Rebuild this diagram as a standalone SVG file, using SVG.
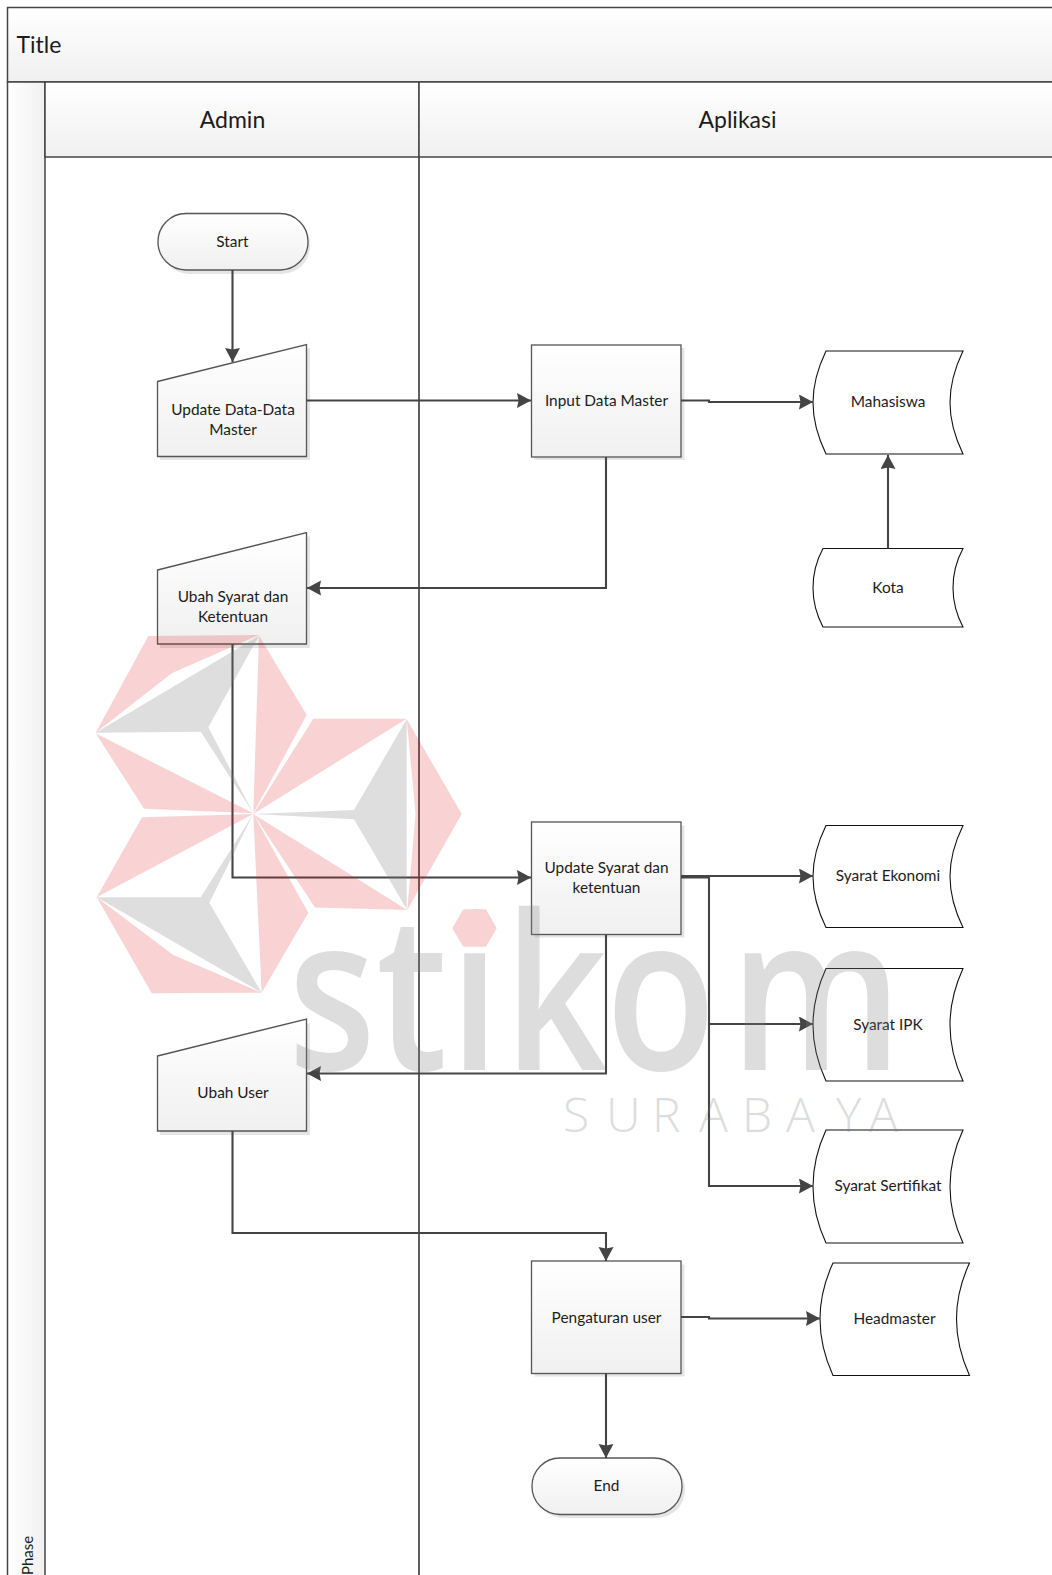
<svg xmlns="http://www.w3.org/2000/svg" width="1052" height="1575" viewBox="0 0 1052 1575">
<style>
text{font-family:"Lato","Open Sans","Liberation Sans",sans-serif;fill:#1c1c1c;text-anchor:middle}
.n{font-size:15.4px}
.h{font-size:23px}
.fr{fill:url(#v);stroke:#555;stroke-width:1.3}
.sh{fill:#dcdcdc;opacity:.75}
.ds{fill:#fff;stroke:#111;stroke-width:1.1}
.c{fill:none;stroke:#444;stroke-width:2.1;marker-end:url(#a)}
.p{fill:#e2222a;opacity:.2}
.g{fill:#808080;opacity:.26}
.wm{font-family:"Open Sans",sans-serif;fill:#808080;opacity:.26;text-anchor:start}
</style>
<defs>
<linearGradient id="v" x1="0" y1="0" x2="0" y2="1"><stop offset="0" stop-color="#fff"/><stop offset="1" stop-color="#f0f0f0"/></linearGradient>
<linearGradient id="hz" x1="0" y1="0" x2="1" y2="0"><stop offset="0" stop-color="#fff"/><stop offset="1" stop-color="#f0f0f0"/></linearGradient>
<marker id="a" markerUnits="userSpaceOnUse" markerWidth="16" markerHeight="16" refX="14" refY="7.500" orient="auto"><path d="M0 0L14 7.500L0 15L1.500 7.500Z" fill="#444"/></marker>
</defs>
<rect width="1052" height="1575" fill="#fff"/>
<g id="swimlane">
<rect x="7.500" y="7.500" width="1050" height="74.500" fill="url(#v)" stroke="#444" stroke-width="1.500"/>
<text x="16.500" y="53" class="h" style="text-anchor:start">Title</text>
<rect x="7.500" y="82" width="37.500" height="1500" fill="url(#hz)" stroke="#444" stroke-width="1.500"/>
<rect x="45" y="82" width="374" height="75" fill="url(#v)" stroke="#444" stroke-width="1.500"/>
<rect x="419" y="82" width="640" height="75" fill="url(#v)" stroke="#444" stroke-width="1.500"/>
<path d="M419 157V1575" stroke="#444" stroke-width="1.700" fill="none"/>
<text x="232.500" y="128" class="h">Admin</text>
<text x="737.500" y="128" class="h">Aplikasi</text>
<text transform="translate(33 1575) rotate(-90)" x="0" y="0" style="text-anchor:start;font-size:15px">Phase</text>
</g>
<g id="start"><rect class="sh" x="161" y="217" width="149" height="57" rx="28"/><rect class="fr" x="158" y="213.500" width="150" height="56.500" rx="28"/><text class="n" x="232.500" y="247">Start</text></g>
<g id="update-data"><path class="sh" d="M160 385L310 348V460H160Z"/><path class="fr" d="M157.500 381.500L306.500 344.500V456.500H157.500Z"/><text class="n" x="233" y="415">Update Data-Data</text><text class="n" x="233" y="435">Master</text></g>
<g id="input-data"><rect class="sh" x="534.500" y="348" width="150" height="112"/><rect class="fr" x="531.500" y="345" width="149.500" height="112"/><text class="n" x="606.500" y="406">Input Data Master</text></g>
<g id="mahasiswa"><path class="ds" d="M826 351H963Q950 378 950 402.500Q950 427 963 454H826Q813 427 813 402.500Q813 378 826 351Z"/><text class="n" x="888" y="407">Mahasiswa</text></g>
<g id="kota"><path class="ds" d="M823 548.500H963Q953 567 953 588Q953 608 963 627H823Q813 608 813 588Q813 567 823 548.500Z"/><text class="n" x="888" y="593">Kota</text></g>
<g id="ubah-syarat"><path class="sh" d="M160 573L310 536V648H160Z"/><path class="fr" d="M157.500 570L306.500 532.500V644H157.500Z"/><text class="n" x="233" y="602">Ubah Syarat dan</text><text class="n" x="233" y="622">Ketentuan</text></g>
<g id="update-syarat"><rect class="sh" x="534.500" y="825.500" width="150" height="112"/><rect class="fr" x="531.500" y="822" width="149.500" height="112.500"/><text class="n" x="606.500" y="873">Update Syarat dan</text><text class="n" x="606.500" y="893">ketentuan</text></g>
<g id="syarat-ekonomi"><path class="ds" d="M826 825.500H963Q950 852 950 876.500Q950 901 963 927.500H826Q813 901 813 876.500Q813 852 826 825.500Z"/><text class="n" x="888" y="881">Syarat Ekonomi</text></g>
<g id="syarat-ipk"><path class="ds" d="M826 968.500H963Q950 997 950 1025Q950 1053 963 1081H826Q813 1053 813 1025Q813 997 826 968.500Z"/><text class="n" x="888" y="1030">Syarat IPK</text></g>
<g id="syarat-sertifikat"><path class="ds" d="M826 1130H963Q950 1158 950 1186.500Q950 1215 963 1243H826Q813 1215 813 1186.500Q813 1158 826 1130Z"/><text class="n" x="888" y="1191">Syarat Sertifikat</text></g>
<g id="ubah-user"><path class="sh" d="M160 1060L310 1023V1135H160Z"/><path class="fr" d="M157.500 1056L306.500 1019V1131H157.500Z"/><text class="n" x="233" y="1098">Ubah User</text></g>
<g id="pengaturan"><rect class="sh" x="534.500" y="1264.500" width="150" height="112"/><rect class="fr" x="531.500" y="1261" width="149.500" height="112.500"/><text class="n" x="606.500" y="1323">Pengaturan user</text></g>
<g id="headmaster"><path class="ds" d="M833 1263H969.500Q956.500 1291 956.500 1319Q956.500 1347 969.500 1375.500H833Q820 1347 820 1319Q820 1291 833 1263Z"/><text class="n" x="894.500" y="1324">Headmaster</text></g>
<g id="end"><rect class="sh" x="535" y="1461" width="150" height="57" rx="28"/><rect class="fr" x="532" y="1458" width="150" height="56.500" rx="28"/><text class="n" x="606.500" y="1491">End</text></g>
<g id="connectors">
<path class="c" d="M232.500 270V362"/>
<path class="c" d="M306.500 400.500H531"/>
<path class="c" d="M681 400.500H709V402H813"/>
<path class="c" d="M606 457V588H307"/>
<path class="c" d="M888 548.500V455"/>
<path class="c" d="M232.500 644V877.500H531"/>
<path class="c" d="M681 876H813"/>
<path class="c" d="M681 877.500H709V1024H813"/>
<path class="c" d="M709 1024V1186H813"/>
<path class="c" d="M606 934.500V1073.500H307"/>
<path class="c" d="M232.500 1131V1233H606V1261"/>
<path class="c" d="M681 1317H709V1318.500H820"/>
<path class="c" d="M606 1373.500V1458"/>
</g>
<g id="watermark">
<polygon class="p" points="148.300,636 259,635 171.700,673.300 95.700,732.700"/>
<polygon class="p" points="95.700,733.300 253.300,813.300 144,808.700"/>
<polygon class="p" points="259,635.700 306.700,715 253.300,813.300"/>
<polygon class="p" points="313.300,718.700 406.700,718.700 253.300,814"/>
<polygon class="p" points="406.700,719 461.700,814 407.300,910 415.500,813.500"/>
<polygon class="p" points="253.300,814 407.300,910 315,907.500"/>
<polygon class="p" points="253.300,814 308.300,912.700 261.700,992.700"/>
<polygon class="p" points="96.700,897.300 173.300,955 261.700,992.700 151.700,993.300"/>
<polygon class="p" points="253.300,814 142,817.300 96.700,897.300"/>
<polygon class="g" points="95.700,732.700 259,635.700 208.300,727.300 253.300,813.300 200.700,731.700"/>
<polygon class="g" points="253.300,814 354,810 406.700,719.300 406.700,909.300 354,819.300"/>
<polygon class="g" points="96.700,897.300 200.700,897.300 253.300,814 209.300,902.700 261.700,992.700"/>
<text class="wm" transform="scale(.84 1)" x="343 448 535 600 721 869" y="1070" style="font-size:215px;font-weight:600">stikom</text>
<polygon points="463.300,909.300 486,909.300 496.700,928.300 486,946.700 463.300,946.700 452.300,928.300" fill="#f9d2d3"/>
<text class="wm" x="563 606 652 699 742 786 836 869" y="1132" style="font-size:48px;font-weight:300">SURABAYA</text>
</g>
</svg>
